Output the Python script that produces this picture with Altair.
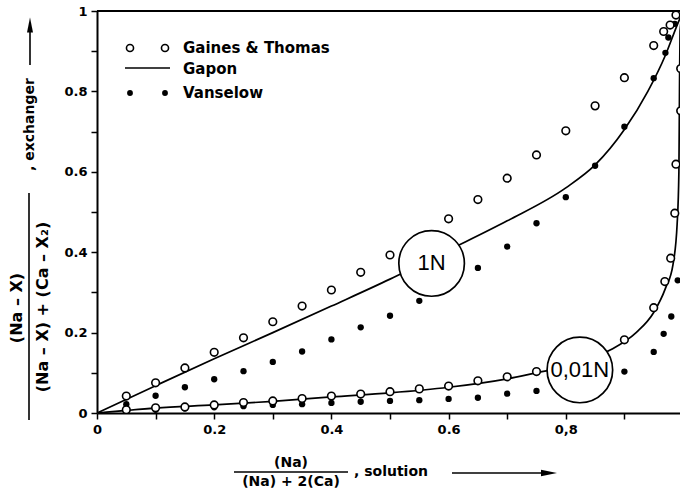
import altair as alt
import pandas as pd

# ---------------- data ----------------
# Gaines & Thomas (open circles), 1N
gt1_x = [0.05, 0.10, 0.15, 0.20, 0.25, 0.30, 0.35, 0.40, 0.45, 0.50, 0.60, 0.65, 0.70, 0.75,
         0.80, 0.85, 0.90, 0.95, 0.967, 0.978, 0.988]
gt1_y = [0.042, 0.075, 0.112, 0.151, 0.187, 0.227, 0.266, 0.306, 0.350, 0.393, 0.483, 0.531,
         0.584, 0.642, 0.702, 0.764, 0.834, 0.914, 0.949, 0.965, 0.990]
# Vanselow (filled dots), 1N
va1_x = [0.05, 0.10, 0.15, 0.20, 0.25, 0.30, 0.35, 0.40, 0.45, 0.50, 0.55, 0.65, 0.70, 0.75,
         0.80, 0.85, 0.90, 0.95, 0.97, 0.975, 0.986]
va1_y = [0.022, 0.043, 0.064, 0.084, 0.104, 0.127, 0.153, 0.183, 0.213, 0.242, 0.279, 0.361,
         0.414, 0.472, 0.537, 0.615, 0.712, 0.833, 0.896, 0.934, 0.968]
# Gaines & Thomas (open circles), 0.01N
gt2_x = [0.05, 0.10, 0.15, 0.20, 0.25, 0.30, 0.35, 0.40, 0.45, 0.50, 0.55, 0.60, 0.65, 0.70,
         0.75, 0.90, 0.95, 0.969, 0.979, 0.986, 0.988, 0.996, 0.996]
gt2_y = [0.008, 0.013, 0.015, 0.020, 0.026, 0.030, 0.036, 0.042, 0.047, 0.053, 0.060, 0.067,
         0.080, 0.090, 0.103, 0.182, 0.262, 0.327, 0.385, 0.497, 0.619, 0.752, 0.857]
# Vanselow (filled dots), 0.01N
va2_x = [0.05, 0.10, 0.15, 0.20, 0.25, 0.30, 0.35, 0.40, 0.45, 0.50, 0.55, 0.60, 0.65, 0.70,
         0.75, 0.90, 0.95, 0.967, 0.98, 0.991]
va2_y = [0.004, 0.008, 0.011, 0.014, 0.017, 0.020, 0.022, 0.025, 0.028, 0.030, 0.032, 0.035,
         0.038, 0.048, 0.055, 0.103, 0.152, 0.197, 0.240, 0.330]
# Gapon curves
gp1_x = [0, 0.1, 0.2, 0.3, 0.4, 0.5, 0.6, 0.7, 0.8, 0.85, 0.9, 0.94, 0.97, 0.99, 1.0]
gp1_y = [0, 0.068, 0.135, 0.200, 0.266, 0.333, 0.405, 0.478, 0.560, 0.617, 0.705, 0.800,
         0.890, 0.965, 1.0]
gp2_x = [0, 0.1, 0.2, 0.3, 0.4, 0.5, 0.6, 0.7, 0.75, 0.8, 0.85, 0.88, 0.92, 0.95, 0.97,
         0.983, 0.99, 0.993, 0.994, 0.995, 1.0]
gp2_y = [0, 0.012, 0.020, 0.029, 0.040, 0.050, 0.064, 0.085, 0.100, 0.115, 0.140, 0.160,
         0.200, 0.250, 0.310, 0.370, 0.470, 0.600, 0.800, 0.950, 1.0]
# concentration labels
lab_x = [0.571, 0.824]
lab_y = [0.372, 0.107]
lab_text = ["1N", "0,01N"]

legend_labels = ["Gaines  &  Thomas", "Gapon", "Vanselow"]
x_ticks = [0, 0.1, 0.2, 0.3, 0.4, 0.5, 0.6, 0.7, 0.8, 0.9]
y_ticks = [0, 0.1, 0.2, 0.3, 0.4, 0.5, 0.6, 0.7, 0.8, 0.9, 1.0]

# ---------------- chart ----------------
W, H = 583, 402
XMAX = 583 / 586
FONT = "DejaVu Sans"

xscale = alt.Scale(domain=[0, XMAX], nice=False, zero=False)
yscale = alt.Scale(domain=[0, 1], nice=False)

xaxis = alt.Axis(
    values=x_ticks, title=None, grid=False, tickSize=6, labelPadding=4,
    labelFlush=False, labelOverlap=False,
    labelExpr="round(datum.value*10)%2==1 ? '' : (datum.value==0 ? '0' : (round(datum.value*10)==8 ? '0,8' : format(datum.value,'.1f')))",
)
yaxis = alt.Axis(
    values=y_ticks, title=None, grid=False, tickSize=6, labelPadding=4,
    labelFlush=False, labelOverlap=False,
    labelExpr="datum.value==1 ? '1' : (datum.value==0 ? '0' : (round(datum.value*10)%2==1 ? '' : format(datum.value,'.1f')))",
)


def df(xs, ys):
    return pd.DataFrame({"x": xs, "y": ys})


def enc(ch):
    return ch.encode(
        x=alt.X("x:Q", scale=xscale, axis=xaxis),
        y=alt.Y("y:Q", scale=yscale, axis=yaxis),
    )


one = pd.DataFrame({"a": [0]})

lines = [
    enc(alt.Chart(df(gp1_x, gp1_y)).mark_line(color="black", strokeWidth=1.7, interpolate="monotone", clip=True)),
    enc(alt.Chart(df(gp2_x, gp2_y)).mark_line(color="black", strokeWidth=1.7, interpolate="monotone", clip=True)),
]
filled = [
    enc(alt.Chart(df(va1_x, va1_y)).mark_circle(color="black", size=40, opacity=1, clip=True)),
    enc(alt.Chart(df(va2_x, va2_y)).mark_circle(color="black", size=40, opacity=1, clip=True)),
]
opened = [
    enc(alt.Chart(df(gt1_x, gt1_y)).mark_point(shape="circle", filled=True, fill="white", stroke="black",
                                                strokeWidth=1.6, size=58, opacity=1, clip=True)),
    enc(alt.Chart(df(gt2_x, gt2_y)).mark_point(shape="circle", filled=True, fill="white", stroke="black",
                                                strokeWidth=1.6, size=58, opacity=1, clip=True)),
]
lab_df = pd.DataFrame({"x": lab_x, "y": lab_y, "t": lab_text})
lab_circ = enc(alt.Chart(lab_df).mark_point(shape="circle", filled=True, fill="white", stroke="black",
                                             strokeWidth=1.7, size=4300, opacity=1))
lab_txt = alt.Chart(lab_df).mark_text(font="Liberation Sans", fontSize=22, color="black",
                                      baseline="middle", align="center").encode(
    x=alt.X("x:Q", scale=xscale, axis=xaxis), y=alt.Y("y:Q", scale=yscale, axis=yaxis), text="t:N")

# top frame line
top = alt.Chart(one).mark_rule(color="black", strokeWidth=2).encode(
    x=alt.value(0), x2=alt.value(W), y=alt.value(0))

# legend (inside plot, top-left)
leg = []
for px in (33, 68):
    leg.append(alt.Chart(one).mark_point(shape="circle", filled=True, fill="white", stroke="black",
                                         strokeWidth=1.6, size=50, opacity=1).encode(
        x=alt.value(px), y=alt.value(37)))
    leg.append(alt.Chart(one).mark_circle(color="black", size=34, opacity=1).encode(
        x=alt.value(px), y=alt.value(82)))
leg.append(alt.Chart(one).mark_rule(color="black", strokeWidth=1.6).encode(
    x=alt.value(28), x2=alt.value(73), y=alt.value(57)))
for i, yy in enumerate((37, 58, 82)):
    leg.append(alt.Chart(one).mark_text(text=legend_labels[i], font=FONT, fontWeight="bold", fontSize=15,
                                        align="left", baseline="middle", color="black").encode(
        x=alt.value(86), y=alt.value(yy)))


def txt(s, x, y, size, angle=0, align="center"):
    return alt.Chart(one).mark_text(text=s, font=FONT, fontWeight="bold", fontSize=size, angle=angle,
                                    align=align, baseline="middle", color="black").encode(
        x=alt.value(x), y=alt.value(y))


def rule(x1, x2, y1, y2, w=1.6):
    return alt.Chart(one).mark_rule(color="black", strokeWidth=w).encode(
        x=alt.value(x1), x2=alt.value(x2), y=alt.value(y1), y2=alt.value(y2))


titles = [
    # y title (rotated fraction)
    txt("(Na – X)", -80, 297, 16, angle=270),
    rule(-68, -68, 182, 409),
    txt("(Na – X) + (Ca – X\u2082)", -54, 296, 16, angle=270),
    txt(", exchanger", -67, 160, 14, angle=270, align="left"),
    rule(-67, -67, 54, 20),
    alt.Chart(one).mark_point(shape="M0,-1L0.4,1L-0.4,1Z", filled=True, color="black", opacity=1,
                              size=225).encode(x=alt.value(-67), y=alt.value(14)),
    # x title (fraction)
    txt("(Na)", 194, 452, 14),
    rule(137, 251, 461, 461),
    txt("(Na) + 2(Ca)", 194, 471, 14),
    txt(", solution", 257, 461, 14, align="left"),
    rule(355, 452, 462, 462),
    alt.Chart(one).mark_point(shape="M1,0L-1,-0.4L-1,0.4Z", filled=True, color="black", opacity=1,
                              size=256).encode(x=alt.value(452), y=alt.value(462)),
]

chart = alt.layer(*lines, *filled, *opened, lab_circ, lab_txt, top, *leg, *titles).properties(
    width=W, height=H,
    padding={"left": 97, "top": 11, "right": 0, "bottom": 78},
    autosize=alt.AutoSizeParams(type="none"),
    background="white",
).configure_view(stroke=None).configure_axis(
    domainColor="black", domainWidth=2, tickColor="black", tickWidth=1.5,
    labelFont=FONT, labelFontWeight="bold", labelFontSize=13, labelColor="black",
)

chart.save("out.html", embed_options={"renderer": "svg", "actions": False})
